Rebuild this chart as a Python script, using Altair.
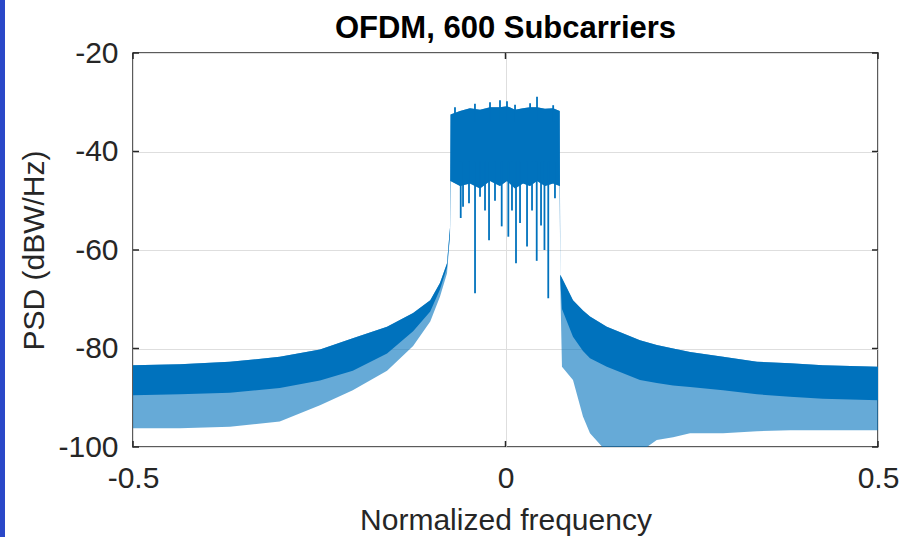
import altair as alt
import pandas as pd

# ---- data (normalized frequency, dBW/Hz) ----
freq = [-0.5, -0.437, -0.37, -0.303, -0.249, -0.205, -0.159, -0.124, -0.101, -0.088,
        -0.0785, -0.0745, -0.0738, -0.061, -0.0477, -0.0342, -0.0208, -0.0074, 0.002,
        0.0128, 0.0235, 0.0329, 0.0423, 0.053, 0.0638, 0.0728, 0.0735, 0.0758, 0.0906,
        0.104, 0.1134, 0.136, 0.1805, 0.203, 0.225, 0.2477, 0.292, 0.3376, 0.3819,
        0.426, 0.5]
upper = [-83.4, -83.2, -82.7, -81.7, -80.2, -77.9, -75.6, -72.8, -70.2, -66.7,
         -62.7, -55.5, -32.5, -31.8, -31.2, -31.5, -31.0, -31.0, -30.8,
         -31.5, -31.2, -31.0, -31.0, -31.3, -31.2, -31.8, -65.0, -65.7, -70.2,
         -72.3, -73.5, -75.6, -78.3, -79.3, -80.0, -80.7, -81.7, -82.7, -83.0,
         -83.4, -83.7]
body_low = [-89.5, -89.3, -89.0, -88.0, -86.5, -84.5, -81.0, -76.5, -72.5, -68.0,
            -63.5, -57.0, -46.0, -47.0, -46.5, -47.5, -46.0, -47.0, -46.0,
            -47.5, -46.5, -47.0, -46.0, -47.0, -46.5, -47.0, -66.0, -72.0, -77.6,
            -80.5, -82.0, -83.7, -86.4, -87.0, -87.5, -87.8, -88.5, -89.3, -89.8,
            -90.2, -90.5]
tail_low = [-96.2, -96.2, -95.9, -94.8, -91.5, -88.5, -84.5, -79.5, -74.5, -69.5,
            -64.7, -57.0, -46.0, -47.0, -46.5, -47.5, -46.0, -47.0, -46.0,
            -47.5, -46.5, -47.0, -46.0, -47.0, -46.5, -47.0, -67.0, -83.7, -86.4,
            -93.8, -97.2, -101.0, -101.0, -98.6, -98.0, -97.2, -97.2, -96.8, -96.6,
            -96.6, -96.6]

notch_freq = [-0.0601, -0.0570, -0.0490, -0.0409, -0.0342, -0.0275, -0.0221, -0.0141,
              -0.0051, 0.0038, 0.0087, 0.0141, 0.0195, 0.0289, 0.0356, 0.0419, 0.0477,
              0.0523, 0.0574, 0.0664]
notch_depth = [-53.5, -51.2, -50.5, -68.8, -49.2, -52.0, -58.0, -50.0,
               -55.2, -57.3, -52.0, -62.7, -54.5, -59.3, -52.0, -62.2, -55.0,
               -60.0, -69.8, -49.5]

peak_freq = [-0.0678, -0.0410, -0.0208, -0.0074, 0.0020, 0.0128, 0.0330, 0.0423, 0.0640]
peak_top = [-31.0, -30.3, -30.0, -29.6, -29.8, -30.5, -30.2, -28.9, -30.6]

x_ticks = [-0.5, 0.0, 0.5]
y_ticks = [-100, -80, -60, -40, -20]
title_text = ["OFDM, 600 Subcarriers"]

W, H = 745, 394
BLUE = "#0072BD"
INK = "#262626"
FONT = "Liberation Sans"

env = pd.DataFrame({"f": freq, "up": upper, "body": body_low, "tail": tail_low})
notches = pd.DataFrame({"f": notch_freq, "lo": notch_depth, "hi": [-42.0] * len(notch_freq)})
peaks = pd.DataFrame({"f": peak_freq, "hi": peak_top, "lo": [-34.0] * len(peak_freq)})
xt = pd.DataFrame({"v": x_ticks})
yt = pd.DataFrame({"v": y_ticks})

xs = alt.Scale(domain=[-0.5, 0.5], nice=False, zero=False)
ys = alt.Scale(domain=[-100, -20], nice=False, zero=False)

x_axis = alt.Axis(values=x_ticks, title="Normalized frequency",
                  labelExpr="datum.value == 0 ? '0' : (datum.value < 0 ? '-' : '') + format(abs(datum.value), '.1f')",
                  labelFontSize=30, labelColor=INK, labelFont=FONT, labelPadding=16,
                  labelFlush=False, labelOverlap=False,
                  titleFontSize=30, titleFont=FONT, titleFontWeight="normal", titleColor=INK,
                  titlePadding=12, ticks=False, domain=False, grid=True,
                  gridColor="#dedede", gridWidth=1)
y_axis = alt.Axis(values=y_ticks, title="PSD (dBW/Hz)",
                  labelExpr="(datum.value < 0 ? '-' : '') + abs(datum.value)",
                  labelFontSize=30, labelColor=INK, labelFont=FONT, labelPadding=15,
                  labelFlush=False, labelOverlap=False,
                  titleFontSize=30, titleFont=FONT, titleFontWeight="normal", titleColor=INK,
                  titlePadding=8, ticks=False, domain=False, grid=True,
                  gridColor="#dedede", gridWidth=1)

tail = alt.Chart(env).mark_area(color=BLUE, opacity=0.6, clip=True, interpolate="linear").encode(
    x=alt.X("f:Q", scale=xs, axis=x_axis),
    y=alt.Y("tail:Q", scale=ys, axis=y_axis),
    y2="up:Q")
body = alt.Chart(env).mark_area(color=BLUE, opacity=1.0, clip=True, interpolate="linear").encode(
    x=alt.X("f:Q", scale=xs), y=alt.Y("body:Q", scale=ys), y2="up:Q")
notch_rules = alt.Chart(notches).mark_rule(color=BLUE, strokeWidth=1.8, clip=True).encode(
    x=alt.X("f:Q", scale=xs), y=alt.Y("lo:Q", scale=ys), y2="hi:Q")
peak_rules = alt.Chart(peaks).mark_rule(color=BLUE, strokeWidth=1.8, clip=True).encode(
    x=alt.X("f:Q", scale=xs), y=alt.Y("lo:Q", scale=ys), y2="hi:Q")

tick_l = alt.Chart(yt).mark_rule(color=INK, strokeWidth=1.5).encode(
    y=alt.Y("v:Q", scale=ys), x=alt.value(0), x2=alt.value(6))
tick_r = alt.Chart(yt).mark_rule(color=INK, strokeWidth=1.5).encode(
    y=alt.Y("v:Q", scale=ys), x=alt.value(W - 6), x2=alt.value(W))
tick_b = alt.Chart(xt).mark_rule(color=INK, strokeWidth=1.5).encode(
    x=alt.X("v:Q", scale=xs), y=alt.value(H - 6), y2=alt.value(H))
tick_t = alt.Chart(xt).mark_rule(color=INK, strokeWidth=1.5).encode(
    x=alt.X("v:Q", scale=xs), y=alt.value(0), y2=alt.value(6))

# chart title drawn as a text mark centred over the plot area
title = alt.Chart(pd.DataFrame({"t": title_text})).mark_text(
    font=FONT, fontSize=31, fontWeight="bold", color="#000000",
    align="center", baseline="alphabetic", clip=False).encode(
    text="t:N", x=alt.value(W / 2), y=alt.value(-15))

# blue strip along the left edge of the screenshot
edge = alt.Chart(pd.DataFrame({"k": [0]})).mark_rect(color="#2a48c8", clip=False).encode(
    x=alt.value(-133), x2=alt.value(-128), y=alt.value(-53), y2=alt.value(H + 90))

chart = alt.layer(tail, body, notch_rules, peak_rules, tick_l, tick_r, tick_b, tick_t,
                  title, edge).properties(
    width=W, height=H,
    autosize=alt.AutoSizeParams(type="none"),
    padding={"left": 133, "top": 53, "right": 35, "bottom": 90},
    background="white",
).configure_view(stroke=INK, strokeWidth=1.5)

chart.save("out.html", embed_options={"renderer": "svg", "actions": False})
